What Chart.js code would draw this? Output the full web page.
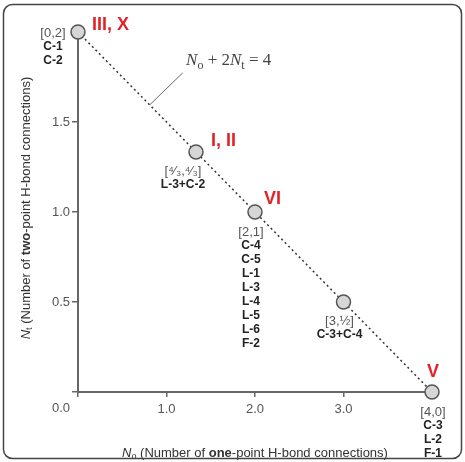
<!doctype html>
<html>
<head>
<meta charset=utf-8>
<title>H-bond connections</title>
<script src="https://cdn.jsdelivr.net/npm/chart.js@4/dist/chart.umd.min.js"></script>
<style>body{margin:0;background:#fff}</style>
</head>
<body>
<canvas id="chart" width="465" height="462"></canvas>
<script>
// data
var noValues = [0, 4/3, 2, 3, 4];
var ntValues = [2, 4/3, 1, 0.5, 0];
var coordLabels = ['[0,2]', '[\u2074\u2044\u2083,\u2074\u2044\u2083]', '[2,1]', '[3,\u00bd]', '[4,0]'];
var structures = [['C-1', 'C-2'], ['L-3+C-2'], ['C-4', 'C-5', 'L-1', 'L-3', 'L-4', 'L-5', 'L-6', 'F-2'], ['C-3+C-4'], ['C-3', 'L-2', 'F-1']];
var groupNames = ['III, X', 'I, II', 'VI', '', 'V'];
var xTickLabels = ['', '1.0', '2.0', '3.0', ''];
var yTickLabels = ['', '0.5', '1.0', '1.5', ''];
var originLabel = '0.0';
var leaderAt = 0.81; // No value where the equation's leader touches the line

var SANS = "'Liberation Sans', Arial, sans-serif";
var SERIF = "'Liberation Serif', 'Times New Roman', serif";

var points = noValues.map(function(x, i) { return {x: x, y: ntValues[i]}; });

// draw a run of differently styled pieces centred on (cx, cy)
function drawRich(ctx, parts, cx, cy, color) {
	var total = 0;
	parts.forEach(function(p) { ctx.font = p.font; total += ctx.measureText(p.t).width; });
	var x = cx - total / 2;
	ctx.fillStyle = color;
	ctx.textAlign = 'left';
	ctx.textBaseline = 'middle';
	parts.forEach(function(p) {
		ctx.font = p.font;
		ctx.fillText(p.t, x, cy + (p.dy || 0));
		x += ctx.measureText(p.t).width;
	});
}

var blockPos = [[-25, 1], [-13, 19], [-4, 20], [-4, 19], [1, 20]];
var namePos = [[14, -7, 'left'], [15, -11, 'left'], [9, -13, 'left'], null, [1, -20, 'center']];

var labelPlugin = {
	id: 'labels',
	afterDraw: function(chart) {
		var ctx = chart.ctx, xs = chart.scales.x, ys = chart.scales.y;
		ctx.save();

		// point annotations
		points.forEach(function(p, i) {
			var px = xs.getPixelForValue(p.x), py = ys.getPixelForValue(p.y);
			var bx = px + blockPos[i][0], by = py + blockPos[i][1];
			ctx.textAlign = 'center';
			ctx.textBaseline = 'middle';
			ctx.fillStyle = '#555';
			ctx.font = '13px ' + SANS;
			ctx.fillText(coordLabels[i], bx, by);
			ctx.fillStyle = '#222';
			ctx.font = 'bold 12px ' + SANS;
			structures[i].forEach(function(s, k) {
				ctx.fillText(s, bx, by + 14 * (k + 1));
			});
			if (groupNames[i]) {
				ctx.fillStyle = '#e2232b';
				ctx.font = 'bold 18px ' + SANS;
				ctx.textAlign = namePos[i][2];
				ctx.fillText(groupNames[i], px + namePos[i][0], py + namePos[i][1]);
			}
		});

		// origin tick label
		ctx.fillStyle = '#555';
		ctx.font = '13px ' + SANS;
		ctx.textAlign = 'right';
		ctx.textBaseline = 'middle';
		ctx.fillText(originLabel, xs.getPixelForValue(0) - 8, ys.getPixelForValue(0) + 16);

		// equation with leader line
		var lx = xs.getPixelForValue(leaderAt);
		var ly = ys.getPixelForValue(2 - leaderAt / 2);
		ctx.strokeStyle = '#666';
		ctx.lineWidth = 1;
		ctx.beginPath();
		ctx.moveTo(lx, ly);
		ctx.lineTo(lx + 33, ly - 32);
		ctx.stroke();
		var eq = [
			{t: 'N', font: 'italic 17px ' + SERIF},
			{t: 'o', font: '12px ' + SERIF, dy: 5},
			{t: ' + 2', font: '17px ' + SERIF},
			{t: 'N', font: 'italic 17px ' + SERIF},
			{t: 't', font: '12px ' + SERIF, dy: 5},
			{t: ' = 4', font: '17px ' + SERIF}
		];
		drawRich(ctx, eq, lx + 79, ly - 44, '#444');

		// axis titles
		drawRich(ctx, [
			{t: 'N', font: 'italic 13px ' + SANS},
			{t: 'o', font: '9px ' + SANS, dy: 4},
			{t: ' (Number of ', font: '13px ' + SANS},
			{t: 'one', font: 'bold 13px ' + SANS},
			{t: '-point H-bond connections)', font: '13px ' + SANS}
		], 255, 453, '#333');
		ctx.save();
		ctx.translate(26, 208);
		ctx.rotate(-Math.PI / 2);
		drawRich(ctx, [
			{t: 'N', font: 'italic 13px ' + SANS},
			{t: 't', font: '9px ' + SANS, dy: 4},
			{t: ' (Number of ', font: '13px ' + SANS},
			{t: 'two', font: 'bold 13px ' + SANS},
			{t: '-point H-bond connections)', font: '13px ' + SANS}
		], 0, 0, '#333');
		ctx.restore();

		// figure frame
		ctx.strokeStyle = '#444';
		ctx.lineWidth = 1.5;
		ctx.beginPath();
		ctx.roundRect(3.5, 4.5, 458, 454, 9);
		ctx.stroke();

		ctx.restore();
	}
};

var ctx = document.getElementById('chart').getContext('2d');
var chart = new Chart(ctx, {
	type: 'scatter',
	data: {
		datasets: [{
			data: points,
			showLine: true,
			borderColor: '#333',
			borderWidth: 1.5,
			borderDash: [2, 3],
			pointRadius: 0,
			clip: false,
			order: 2
		}, {
			data: points,
			pointRadius: 7,
			pointBackgroundColor: '#d6d6d6',
			pointBorderColor: '#555',
			pointBorderWidth: 1.5,
			clip: false,
			order: 1
		}]
	},
	options: {
		responsive: false,
		animation: false,
		layout: {padding: {left: 0, top: 32, right: 33, bottom: 0}},
		plugins: {legend: {display: false}, tooltip: {enabled: false}},
		scales: {
			x: {
				min: 0, max: 4,
				afterFit: function(s) { s.height = 70; },
				border: {color: '#666', width: 2},
				grid: {drawOnChartArea: false, drawTicks: true, tickLength: 5, color: '#666', lineWidth: 1.5},
				ticks: {
					stepSize: 1, padding: 5, color: '#555', maxRotation: 0,
					font: {family: SANS, size: 13},
					callback: function(v, i) { return xTickLabels[i]; }
				}
			},
			y: {
				min: 0, max: 2,
				afterFit: function(s) { s.width = 78; },
				border: {color: '#666', width: 2},
				grid: {drawOnChartArea: false, drawTicks: true, tickLength: 6, color: '#666', lineWidth: 1.5},
				ticks: {
					stepSize: 0.5, padding: 2, color: '#555',
					font: {family: SANS, size: 13},
					callback: function(v, i) { return yTickLabels[i]; }
				}
			}
		}
	},
	plugins: [labelPlugin]
});
</script>
</body>
</html>
